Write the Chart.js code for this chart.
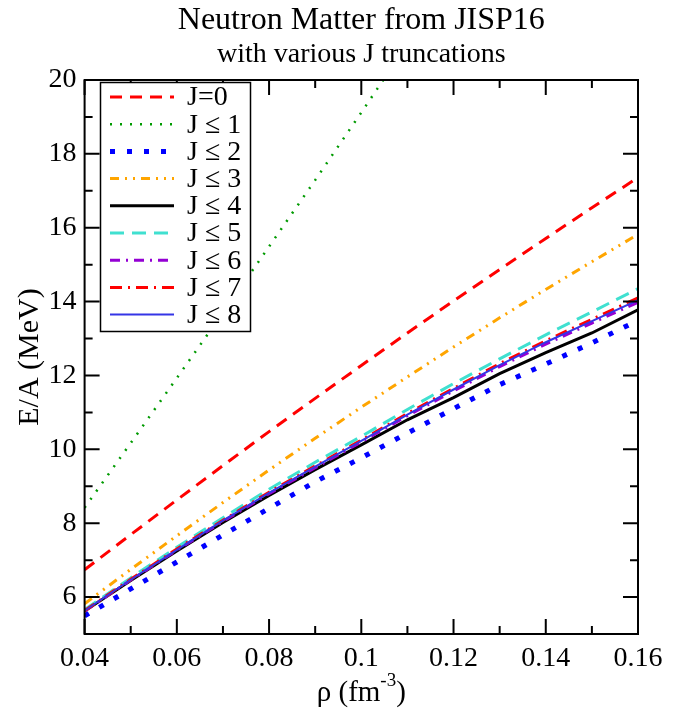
<!DOCTYPE html>
<html>
<head>
<meta charset="utf-8">
<script src="https://cdn.jsdelivr.net/npm/chart.js@4.4.1/dist/chart.umd.min.js"></script>
<style>
  html, body { margin: 0; padding: 0; background: #fff; }
</style>
</head>
<body>
<canvas id="eos" width="680" height="709"></canvas>
<script>
// density grid (fm^-3)
const density = [0.04, 0.05, 0.06, 0.07, 0.08, 0.09, 0.10, 0.11, 0.12, 0.13, 0.14, 0.15, 0.16];

// E/A (MeV) per J truncation
const eJ0 = [6.74, 7.69, 8.63, 9.56, 10.48, 11.38, 12.27, 13.15, 14.02, 14.87, 15.71, 16.54, 17.36];
const eJ1 = [8.42, 10.17, 11.93, 13.70, 15.49, 17.29, 19.12, 20.97, 22.85, 24.75, 26.65, 28.55, 30.45];
const eJ2 = [5.49, 6.22, 6.95, 7.68, 8.40, 9.12, 9.77, 10.44, 11.10, 11.75, 12.31, 12.88, 13.49];
const eJ3 = [5.82, 6.75, 7.66, 8.56, 9.44, 10.30, 11.14, 11.96, 12.77, 13.56, 14.33, 15.08, 15.82];
const eJ4 = [5.62, 6.45, 7.25, 8.02, 8.75, 9.45, 10.12, 10.80, 11.40, 12.05, 12.62, 13.15, 13.78];
const eJ5 = [5.66, 6.52, 7.35, 8.15, 8.92, 9.65, 10.35, 11.08, 11.78, 12.45, 13.10, 13.72, 14.35];
const eJ6 = [5.62, 6.46, 7.27, 8.05, 8.80, 9.50, 10.20, 10.91, 11.58, 12.24, 12.85, 13.42, 13.98];
const eJ7 = [5.63, 6.48, 7.30, 8.08, 8.84, 9.55, 10.25, 10.97, 11.65, 12.32, 12.94, 13.52, 14.10];
const eJ8 = [5.63, 6.47, 7.28, 8.07, 8.82, 9.53, 10.23, 10.94, 11.62, 12.28, 12.90, 13.47, 14.04];

const seriesLabels = ['J=0', 'J \u2264 1', 'J \u2264 2', 'J \u2264 3', 'J \u2264 4', 'J \u2264 5', 'J \u2264 6', 'J \u2264 7', 'J \u2264 8'];

// axis ticks
const xMajor = [0.04, 0.06, 0.08, 0.10, 0.12, 0.14, 0.16];
const xMinor = [0.05, 0.07, 0.09, 0.11, 0.13, 0.15];
const yMajor = [6, 8, 10, 12, 14, 16, 18, 20];
const yMinor = [5, 7, 9, 11, 13, 15, 17, 19];

const SERIF = '"Liberation Serif", "DejaVu Serif", serif';

const styles = [
    { color: '#ff0000', width: 3, dash: [12, 8] },
    { color: '#009a00', width: 2.5, dash: [2, 8] },
    { color: '#0000ff', width: 5, dash: [5, 12] },
    { color: '#ffa500', width: 3, dash: [9, 6, 2, 6, 2, 6] },
    { color: '#000000', width: 3, dash: [] },
    { color: '#40e0d0', width: 3, dash: [14, 8] },
    { color: '#9400d3', width: 3, dash: [10, 6, 2, 6] },
    { color: '#ff0000', width: 3, dash: [12, 6, 2, 6] },
    { color: '#3535e6', width: 2, dash: [] }
];

const allSeries = [eJ0, eJ1, eJ2, eJ3, eJ4, eJ5, eJ6, eJ7, eJ8];

const datasets = allSeries.map((vals, i) => ({
    label: seriesLabels[i],
    data: vals.map((v, k) => ({ x: density[k], y: v })),
    borderColor: styles[i].color,
    borderWidth: styles[i].width,
    borderDash: styles[i].dash,
    pointRadius: 0,
    fill: false,
    tension: 0,
    order: allSeries.length - i   // later sets drawn on top, like grace
}));

// frame, inward ticks, titles and the boxed legend
const decor = {
    id: 'decor',
    afterDraw(chart) {
        const { ctx, chartArea: a, scales } = chart;
        const sx = scales.x, sy = scales.y;
        ctx.save();
        ctx.strokeStyle = '#000';
        ctx.lineWidth = 2;
        ctx.strokeRect(a.left, a.top, a.right - a.left, a.bottom - a.top);

        const tickX = (vals, len) => {
            vals.forEach(v => {
                const px = sx.getPixelForValue(v);
                ctx.beginPath();
                ctx.moveTo(px, a.bottom); ctx.lineTo(px, a.bottom - len);
                ctx.moveTo(px, a.top); ctx.lineTo(px, a.top + len);
                ctx.stroke();
            });
        };
        const tickY = (vals, len) => {
            vals.forEach(v => {
                const py = sy.getPixelForValue(v);
                ctx.beginPath();
                ctx.moveTo(a.left, py); ctx.lineTo(a.left + len, py);
                ctx.moveTo(a.right, py); ctx.lineTo(a.right - len, py);
                ctx.stroke();
            });
        };
        tickX(xMajor, 15); tickX(xMinor, 8);
        tickY(yMajor, 15); tickY(yMinor, 8);

        // titles
        const cx = (a.left + a.right) / 2;
        ctx.fillStyle = '#000';
        ctx.textAlign = 'center';
        ctx.textBaseline = 'middle';
        ctx.font = '32px ' + SERIF;
        ctx.fillText('Neutron Matter from JISP16', cx, 21);
        ctx.font = '28px ' + SERIF;
        ctx.fillText('with various J truncations', cx, 55);

        // x title with superscript
        ctx.textAlign = 'left';
        ctx.font = '29px ' + SERIF;
        const main = '\u03c1 (fm', sup = '-3', close = ')';
        ctx.font = '19px ' + SERIF;
        const wSup = ctx.measureText(sup).width;
        ctx.font = '29px ' + SERIF;
        const wMain = ctx.measureText(main).width, wClose = ctx.measureText(close).width;
        let tx = cx - (wMain + wSup + wClose) / 2;
        ctx.fillText(main, tx, 693);
        ctx.font = '19px ' + SERIF;
        ctx.fillText(sup, tx + wMain, 681);
        ctx.font = '29px ' + SERIF;
        ctx.fillText(close, tx + wMain + wSup, 693);

        ctx.textAlign = 'center';
        ctx.save();
        ctx.translate(30, (a.top + a.bottom) / 2);
        ctx.rotate(-Math.PI / 2);
        ctx.font = '30px ' + SERIF;
        ctx.fillText('E/A (MeV)', 0, 0);
        ctx.restore();

        // legend box
        const bx = 100.5, by = 82.5, bw = 150, bh = 249;
        ctx.fillStyle = '#fff';
        ctx.fillRect(bx, by, bw, bh);
        ctx.lineWidth = 1.5;
        ctx.strokeStyle = '#000';
        ctx.strokeRect(bx, by, bw, bh);
        ctx.font = '28px ' + SERIF;
        ctx.textAlign = 'left';
        chart.data.datasets.forEach((ds, i) => {
            const ry = 97 + i * 27.2;
            ctx.save();
            ctx.strokeStyle = ds.borderColor;
            ctx.lineWidth = ds.borderWidth;
            ctx.setLineDash(ds.borderDash);
            ctx.beginPath();
            ctx.moveTo(110, ry); ctx.lineTo(174, ry);
            ctx.stroke();
            ctx.restore();
            ctx.fillStyle = '#000';
            ctx.fillText(ds.label, 187, ry + 1);
        });
        ctx.restore();
    }
};

new Chart(document.getElementById('eos'), {
    type: 'line',
    data: { datasets },
    options: {
        responsive: false,
        animation: false,
        layout: { padding: { top: 80, right: 42, left: 0, bottom: 0 } },
        plugins: { legend: { display: false }, tooltip: { enabled: false } },
        scales: {
            x: {
                type: 'linear',
                min: 0.04, max: 0.16,
                border: { display: false },
                grid: { display: false, drawTicks: false },
                afterBuildTicks: s => { s.ticks = xMajor.map(v => ({ value: v })); },
                afterFit: s => { s.height = 75; },
                ticks: {
                    padding: 8,
                    color: '#000',
                    font: { family: SERIF, size: 28 },
                    callback: v => String(+v.toFixed(2))
                }
            },
            y: {
                type: 'linear',
                min: 5, max: 20,
                border: { display: false },
                grid: { display: false, drawTicks: false },
                afterBuildTicks: s => { s.ticks = yMajor.map(v => ({ value: v })); },
                afterFit: s => { s.width = 84.6; },
                ticks: {
                    padding: 8,
                    color: '#000',
                    font: { family: SERIF, size: 28 },
                    callback: v => String(v)
                }
            }
        }
    },
    plugins: [decor]
});
</script>
</body>
</html>
